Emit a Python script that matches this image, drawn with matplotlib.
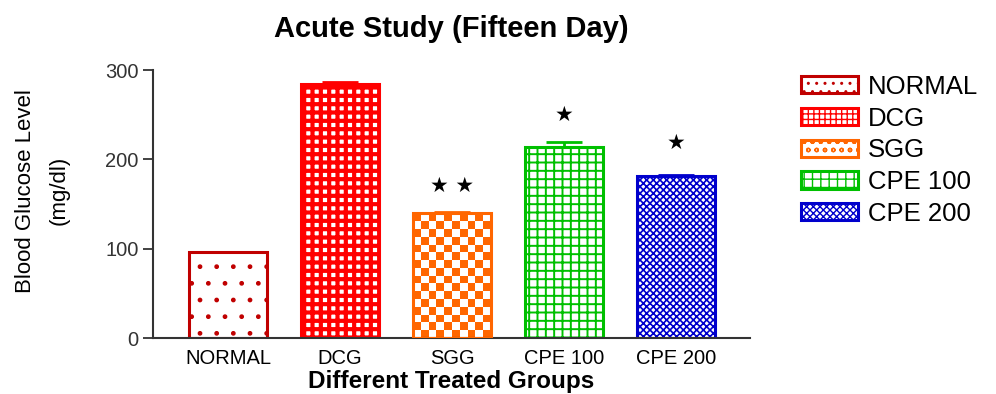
import numpy as np
import matplotlib.pyplot as plt
from matplotlib.patches import Patch
from matplotlib.colors import ListedColormap

groups = ["NORMAL", "DCG", "SGG", "CPE 100", "CPE 200"]
glucose = [96, 285, 140, 214, 182]
err = [0.8, 1.5, 1.5, 5.5, 1.0]
stars = ["", "", "★ ★", "★", "★"]
star_y = [0, 0, 170, 250, 218]

colors = ["#C00000", "#FF0000", "#FF6600", "#00C000", "#0000CC"]
hatches = [".", "++", None, "++", "xxxxx"]
legend_hatches = ["..", "+++", "oo", "++", "xxxxx"]
hatch_lw = [1.0, 3.0, 1.0, 1.4, 1.2]

plt.rcParams['font.family'] = ['Liberation Sans', 'DejaVu Sans']

fig = plt.figure(figsize=(9.96, 3.94), dpi=100)
ax = fig.add_axes([0.1536, 0.142, 0.5994, 0.680])
ax.set_xlim(-0.67, 4.66)
ax.set_ylim(0, 300)

x = np.arange(len(groups))
width = 0.69
handles = []
for i in range(len(groups)):
    with plt.rc_context({'hatch.linewidth': hatch_lw[i]}):
        b = ax.bar(x[i], glucose[i], width=width, facecolor="white",
                   edgecolor=colors[i], hatch=hatches[i], linewidth=2.2, zorder=2)
        handles.append(Patch(facecolor="white", edgecolor=colors[i],
                             hatch=legend_hatches[i], linewidth=2.2, label=groups[i]))
    if hatches[i] is None:
        # checkerboard fill, clipped to the bar
        p0 = ax.transData.transform((x[i] - width / 2, 0))
        p1 = ax.transData.transform((x[i] + width / 2, glucose[i]))
        nx = 10
        cell = (p1[0] - p0[0]) / nx
        ny = int(round((p1[1] - p0[1]) / cell)) + 1
        board = (np.indices((ny, nx)).sum(axis=0) % 2).astype(float)
        top = ax.transData.inverted().transform((p0[0], p0[1] + ny * cell))[1]
        im = ax.imshow(board, cmap=ListedColormap(["white", colors[i]]),
                       extent=(x[i] - width / 2, x[i] + width / 2, 0, top),
                       origin="lower", interpolation="nearest", aspect="auto", zorder=2.5)
        im.set_clip_path(b.patches[0])
        b.patches[0].set_facecolor("none")
        b.patches[0].set_zorder(3)
    ax.errorbar(x[i], glucose[i], yerr=[[0], [err[i]]], color=colors[i],
                capsize=13, capthick=2, elinewidth=2, zorder=1)
    if stars[i]:
        ax.text(x[i], star_y[i], stars[i], ha="center", va="center",
                fontsize=15, family=['DejaVu Sans'], color="black")

ax.set_xlim(-0.67, 4.66)
ax.set_ylim(0, 300)
ax.set_yticks([0, 100, 200, 300])
ax.set_xticks(x)
ax.set_xticklabels(groups, fontsize=14.5)
ax.tick_params(axis="x", length=0, pad=8)
ax.tick_params(axis="y", length=7, width=1.3, labelsize=14.5, colors="#333333",
               labelcolor="#333333")
for s in ["top", "right"]:
    ax.spines[s].set_visible(False)
for s in ["left", "bottom"]:
    ax.spines[s].set_color("#333333")
    ax.spines[s].set_linewidth(1.5)

ax.set_title("Acute Study (Fifteen Day)", fontsize=21, fontweight="bold", pad=24)
ax.set_xlabel("Different Treated Groups", fontsize=17.5, fontweight="bold")
ax.xaxis.set_label_coords(0.5, -0.118)
ax.set_ylabel("Blood Glucose Level\n(mg/dl)", fontsize=16, linespacing=1.75)
ax.yaxis.set_label_coords(-0.14, 0.55)

ax.legend(handles=handles, loc="upper left", bbox_to_anchor=(1.06, 1.04), frameon=False,
          fontsize=18.5, handlelength=2.2, handleheight=0.65, labelspacing=0.3,
          handletextpad=0.4, borderaxespad=0.2)

fig.savefig("out.png", dpi=100)
